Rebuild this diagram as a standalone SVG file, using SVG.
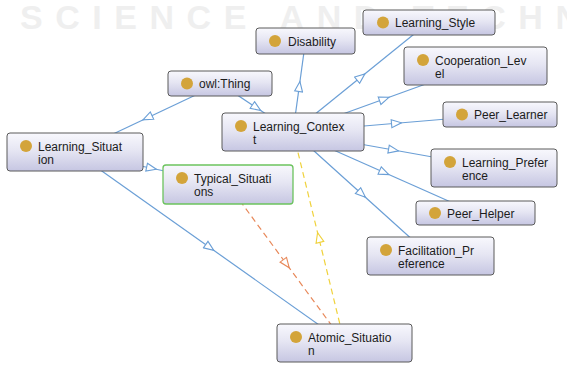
<svg xmlns="http://www.w3.org/2000/svg" width="567" height="365" viewBox="0 0 567 365">
<defs>
<linearGradient id="g" x1="0" y1="0" x2="0" y2="1">
<stop offset="0" stop-color="#f8f8fd"/>
<stop offset="0.45" stop-color="#e6e6f3"/>
<stop offset="1" stop-color="#c6c6e2"/>
</linearGradient>
<marker id="ab" viewBox="0 0 12 10" refX="6" refY="5" markerWidth="12" markerHeight="10" markerUnits="userSpaceOnUse" orient="auto">
<path d="M1,1 L11,5 L1,9 z" fill="#fff" stroke="#6b9fd6" stroke-width="1.1"/>
</marker>
<marker id="ao" viewBox="0 0 12 10" refX="6" refY="5" markerWidth="12" markerHeight="10" markerUnits="userSpaceOnUse" orient="auto">
<path d="M1,1 L11,5 L1,9 z" fill="#fff" stroke="#e8895a" stroke-width="1.1"/>
</marker>
<marker id="ay" viewBox="0 0 12 10" refX="6" refY="5" markerWidth="12" markerHeight="10" markerUnits="userSpaceOnUse" orient="auto">
<path d="M1,1 L11,5 L1,9 z" fill="#fff" stroke="#f0d23c" stroke-width="1.1"/>
</marker>
</defs>
<style>
.wm{font-family:"Liberation Sans",Arial,sans-serif;font-weight:bold;font-size:34px;fill:#efefef}
.e{fill:none;stroke:#6b9fd6;stroke-width:1.2;marker-mid:url(#ab)}
.eo{fill:none;stroke:#e8895a;stroke-width:1.2;stroke-dasharray:6,4;marker-mid:url(#ao)}
.ey{fill:none;stroke:#f0d23c;stroke-width:1.2;stroke-dasharray:6,4;marker-mid:url(#ay)}
.n rect{fill:url(#g);stroke:#5a5a5a;stroke-width:1}
.n.green rect{stroke:#6cc35e;stroke-width:1.3}
.n circle{fill:#d3a43a}
.n text{font-family:"Liberation Sans",Arial,sans-serif;font-size:12px;fill:#1c1c1c}
</style>
<rect width="567" height="365" fill="#fff"/>
<text class="wm" x="20" y="29" textLength="560" lengthAdjust="spacing">SCIENCE AND TECHN</text>
<g id="connectors">
<path class="e" d="M220,83.5 L147.5,117.75 L75,152"/>
<path class="e" d="M220,83.5 L256.5,107.75 L293,132"/>
<path class="e" d="M75,152 L151.5,168.25 L228,184.5"/>
<path class="e" d="M75,152 L209.75,247.5 L344.5,343"/>
<path class="eo" d="M228,184.5 L286.25,263.75 L344.5,343"/>
<path class="ey" d="M344.5,343 L318.75,237.5 L293,132"/>
<path class="e" d="M293,132 L299.25,86.5 L305.5,41"/>
<path class="e" d="M293,132 L361,77 L429,22"/>
<path class="e" d="M293,132 L384.25,99 L475.5,66"/>
<path class="e" d="M293,132 L396.5,123.25 L500,114.5"/>
<path class="e" d="M293,132 L393.5,150 L494,168"/>
<path class="e" d="M293,132 L384.25,172.5 L475.5,213"/>
<path class="e" d="M293,132 L361.75,194 L430.5,256"/>
</g>
<g id="owl_Thing" class="n"><rect x="168" y="71" width="104" height="25" rx="3"/><circle cx="187" cy="83.5" r="6"/><text x="199" y="88">owl:Thing</text></g>
<g id="Learning_Situation" class="n"><rect x="7" y="133" width="136" height="38" rx="3"/><circle cx="26" cy="146" r="6"/><text x="38" y="151">Learning_Situat</text><text x="38" y="164">ion</text></g>
<g id="Typical_Situations" class="n green"><rect x="163" y="165" width="130" height="39" rx="3"/><circle cx="182" cy="178" r="6"/><text x="194" y="183">Typical_Situati</text><text x="194" y="196">ons</text></g>
<g id="Learning_Context" class="n"><rect x="222" y="113" width="142" height="38" rx="3"/><circle cx="241" cy="126" r="6"/><text x="253" y="131">Learning_Contex</text><text x="253" y="144">t</text></g>
<g id="Disability" class="n"><rect x="256" y="28" width="99" height="26" rx="3"/><circle cx="275" cy="41" r="6"/><text x="288" y="45.5">Disability</text></g>
<g id="Learning_Style" class="n"><rect x="363" y="10" width="132" height="25" rx="3"/><circle cx="383" cy="22.5" r="6"/><text x="395" y="27">Learning_Style</text></g>
<g id="Cooperation_Level" class="n"><rect x="404" y="47" width="143" height="38" rx="3"/><circle cx="423" cy="60" r="6"/><text x="435" y="65">Cooperation_Lev</text><text x="435" y="78">el</text></g>
<g id="Peer_Learner" class="n"><rect x="443" y="102" width="114" height="25" rx="3"/><circle cx="462" cy="114.5" r="6"/><text x="474" y="119">Peer_Learner</text></g>
<g id="Learning_Preference" class="n"><rect x="431" y="149" width="126" height="38" rx="3"/><circle cx="450" cy="162" r="6"/><text x="462" y="167">Learning_Prefer</text><text x="462" y="180">ence</text></g>
<g id="Peer_Helper" class="n"><rect x="416" y="201" width="119" height="24" rx="3"/><circle cx="435" cy="213" r="6"/><text x="447" y="217.5">Peer_Helper</text></g>
<g id="Facilitation_Preference" class="n"><rect x="367" y="237" width="127" height="38" rx="3"/><circle cx="386" cy="250" r="6"/><text x="398" y="255">Facilitation_Pr</text><text x="398" y="268">eference</text></g>
<g id="Atomic_Situation" class="n"><rect x="277" y="324" width="135" height="38" rx="3"/><circle cx="296" cy="337" r="6"/><text x="308" y="342">Atomic_Situatio</text><text x="308" y="355">n</text></g>
</svg>
